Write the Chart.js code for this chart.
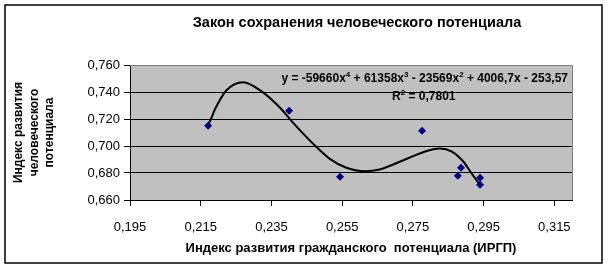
<!DOCTYPE html>
<html><head><meta charset="utf-8">
<script src="https://cdn.jsdelivr.net/npm/chart.js@4"></script>
<style>html,body{margin:0;padding:0;background:#fff}#wrap{width:608px;height:270px}</style>
</head><body><div id="wrap"><canvas id="c" width="608" height="270"></canvas></div>
<script>
const chartTitle = 'Закон сохранения человеческого потенциала';
const xAxisTitle = 'Индекс развития гражданского  потенциала (ИРГП)';
const yAxisTitle = ['Индекс развития', 'человеческого', 'потенциала'];
const xValues = [0.2171, 0.2400, 0.2544, 0.2776, 0.2877, 0.2886, 0.2940, 0.2940];
const yValues = [0.7150, 0.7261, 0.6772, 0.7113, 0.6779, 0.6839, 0.6764, 0.6713];
const trendX = [0.2171, 0.2179, 0.2190, 0.2223, 0.2270, 0.2322, 0.2369, 0.2402, 0.2435, 0.2473, 0.2515, 0.2562, 0.2614, 0.2656, 0.2713, 0.2779, 0.2826, 0.2859, 0.2892, 0.2915, 0.2939];
const trendY = [0.7159, 0.7200, 0.7270, 0.7413, 0.7473, 0.7405, 0.7298, 0.7200, 0.7105, 0.7004, 0.6905, 0.6839, 0.6813, 0.6826, 0.6883, 0.6954, 0.6981, 0.6961, 0.6887, 0.6801, 0.6715];
const xTicks = [0.195, 0.215, 0.235, 0.255, 0.275, 0.295, 0.315];
const yTicks = [0.660, 0.680, 0.700, 0.720, 0.740, 0.760];
const equationParts = [['y = -59660x', 0], ['4', 1], [' + 61358x', 0], ['3', 1], [' - 23569x', 0], ['2', 1], [' + 4006,7x - 253,57', 0]];
const r2Parts = [['R', 0], ['2', 1], [' = 0,7801', 0]];

const FONT = '"Liberation Sans", Arial, sans-serif';
const fmt = v => v.toFixed(3).replace('.', ',');

function drawParts(ctx, parts, x, y, align) {
  const big = 'bold 12px ' + FONT, small = 'bold 8px ' + FONT;
  let w = 0;
  parts.forEach(p => { ctx.font = p[1] ? small : big; w += ctx.measureText(p[0]).width; });
  let cx = align === 'right' ? x - w : x;
  ctx.textAlign = 'left'; ctx.textBaseline = 'alphabetic'; ctx.fillStyle = '#000';
  parts.forEach(p => {
    ctx.font = p[1] ? small : big;
    ctx.fillText(p[0], cx, p[1] ? y - 5 : y);
    cx += ctx.measureText(p[0]).width;
  });
}

const decor = {
  id: 'decor',
  beforeDraw(chart) {
    const {ctx, chartArea: a} = chart;
    ctx.save();
    ctx.fillStyle = '#fff'; ctx.fillRect(0, 0, chart.width, chart.height);
    ctx.fillStyle = '#C0C0C0'; ctx.fillRect(a.left, a.top, a.right - a.left, a.bottom - a.top);
    ctx.restore();
  },
  afterDraw(chart) {
    const {ctx, chartArea: a} = chart;
    ctx.save();
    ctx.strokeStyle = '#808080'; ctx.lineWidth = 1;
    ctx.beginPath(); ctx.moveTo(a.left, a.top + 0.5); ctx.lineTo(a.right + 0.5, a.top + 0.5); ctx.lineTo(a.right + 0.5, a.bottom); ctx.stroke();
    ctx.strokeStyle = '#000'; ctx.lineWidth = 1.5;
    ctx.strokeRect(5, 5, 597, 258);
    ctx.fillStyle = '#000'; ctx.font = 'bold 14.5px ' + FONT; ctx.textAlign = 'center'; ctx.textBaseline = 'alphabetic';
    ctx.fillText(chartTitle, 357, 27);
    drawParts(ctx, equationParts, 568, 81.5, 'right');
    drawParts(ctx, r2Parts, 392, 100, 'left');
    ctx.restore();
  }
};

new Chart(document.getElementById('c'), {
  type: 'scatter',
  data: {
    datasets: [
      { data: xValues.map((x, i) => ({x, y: yValues[i]})), pointStyle: 'rectRot', pointRadius: 4, pointHoverRadius: 4,
        backgroundColor: '#000080', borderColor: '#000080', borderWidth: 0, showLine: false, order: 1 },
      { data: trendX.map((x, i) => ({x, y: trendY[i]})), showLine: true, pointRadius: 0, borderColor: '#000', borderWidth: 2,
        cubicInterpolationMode: 'monotone', fill: false, order: 2 }
    ]
  },
  options: {
    responsive: false, animation: false, devicePixelRatio: 1,
    layout: { padding: { left: 5, right: 36, top: 65, bottom: 0 } },
    plugins: { legend: { display: false }, tooltip: { enabled: false } },
    scales: {
      x: {
        type: 'linear', min: 0.195, max: 0.32,
        afterBuildTicks: s => { s.ticks = xTicks.map(v => ({value: v})); },
        afterFit: s => { s.height = 70; },
        ticks: { callback: v => fmt(v), color: '#000', font: { family: FONT, size: 13 }, padding: 13.5, maxRotation: 0, autoSkip: false },
        grid: { drawOnChartArea: false, drawTicks: true, tickLength: 6, tickColor: '#000', color: '#000' },
        border: { color: '#000', width: 1 },
        title: { display: true, text: xAxisTitle, color: '#000', font: { family: FONT, size: 13, weight: 'bold' }, padding: { top: 0, bottom: 14 } }
      },
      y: {
        type: 'linear', min: 0.66, max: 0.76,
        afterBuildTicks: s => { s.ticks = yTicks.map(v => ({value: v})); },
        afterFit: s => { s.width = 125; },
        ticks: { callback: v => fmt(v), color: '#000', font: { family: FONT, size: 13 }, padding: 4, autoSkip: false },
        grid: { color: c => (c.tick && c.tick.value >= 0.7599) ? '#808080' : '#000', tickColor: '#000', tickLength: 6, drawTicks: true },
        border: { color: '#000', width: 1 },
        title: { display: true, text: yAxisTitle, color: '#000', font: { family: FONT, size: 12, weight: 'bold', lineHeight: 1.3 }, padding: { top: 6, bottom: 0 } }
      }
    }
  },
  plugins: [decor]
});
</script></body></html>
